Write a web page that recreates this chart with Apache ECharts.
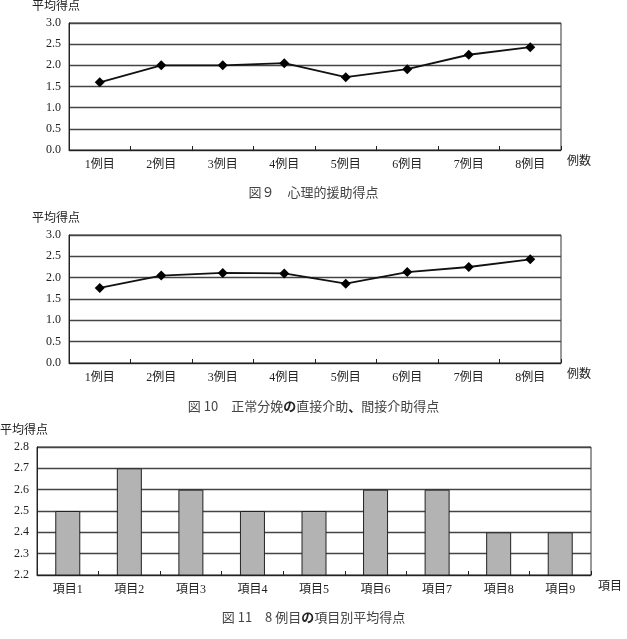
<!DOCTYPE html>
<html><head><meta charset="utf-8">
<script src="https://cdn.jsdelivr.net/npm/echarts@6/dist/echarts.min.js"></script>
<style>html,body{margin:0;padding:0;background:#fff}#c{width:627px;height:639px}</style>
</head><body><div id="c"></div>
<script>
const caseCats = ['1例目','2例目','3例目','4例目','5例目','6例目','7例目','8例目'];
const psychScores = [1.6, 2.0, 2.0, 2.05, 1.72, 1.91, 2.25, 2.43];
const deliveryScores = [1.76, 2.05, 2.11, 2.10, 1.86, 2.13, 2.25, 2.43];
const itemCats = ['項目1','項目2','項目3','項目4','項目5','項目6','項目7','項目8','項目9'];
const itemScores = [2.5, 2.7, 2.6, 2.5, 2.5, 2.6, 2.6, 2.4, 2.4];
const titles = ['図９　心理的援助得点', '図 10　正常分娩{b|の}直接介助{b|、}間接介助得点', '図 11　8 例目{b|の}項目別平均得点'];

const serif = "'Liberation Serif', 'Noto Sans CJK JP', serif";
const sans = "'Noto Sans CJK JP', sans-serif";
const grids = [
  {left: 69, top: 23, width: 492, height: 127},
  {left: 69, top: 235, width: 492, height: 128},
  {left: 37, top: 447, width: 554, height: 128}
];
function xAx(i, data) {
  return {gridIndex: i, type: 'category', data: data, boundaryGap: true,
    axisLine: {lineStyle: {color: '#222', width: 1}},
    axisTick: {show: true, inside: true, length: 4, lineStyle: {color: '#222'}},
    axisLabel: {color: '#222', fontFamily: serif, fontSize: 12, margin: 9},
    splitLine: {show: false}};
}
function yAx(i, min, max, interval, digits) {
  return {gridIndex: i, type: 'value', min: min, max: max, interval: interval,
    axisLine: {show: true, lineStyle: {color: '#222', width: 1}},
    axisTick: {show: false},
    axisLabel: {color: '#222', fontFamily: serif, fontSize: 12, margin: 8,
      formatter: v => v.toFixed(digits)},
    splitLine: {show: true, lineStyle: {color: '#444', width: 1.3}}};
}
const axisNames = [];
grids.forEach((g, i) => {
  axisNames.push({type: 'text', left: g.left - 37, top: g.top - 24,
    style: {text: '平均得点', font: "12px " + sans, fill: '#222'}});
  axisNames.push({type: 'text', left: g.left + g.width + (i === 2 ? 7 : 6), top: g.top + g.height + 4,
    style: {text: i === 2 ? '項目' : '例数', font: "12px " + sans, fill: '#222'}});
});
const titleTops = [186, 400, 611];
const lineSeries = (i, d) => ({type: 'line', xAxisIndex: i, yAxisIndex: i, data: d,
  symbol: 'diamond', symbolSize: 10, lineStyle: {color: '#111', width: 1.8},
  itemStyle: {color: '#000'}, animation: false});

const chart = echarts.init(document.getElementById('c'));
chart.setOption({
  animation: false,
  title: titles.map((t, i) => ({text: t, left: 'center', top: titleTops[i], padding: 0,
    textStyle: {fontFamily: sans, fontSize: 13, fontWeight: 'normal', color: '#444',
      rich: {b: {fontFamily: sans, fontSize: 13, fontWeight: 'bold', color: '#222'}}}})),
  grid: grids.map(g => Object.assign({show: true, borderColor: '#333', borderWidth: 1, backgroundColor: '#fff'}, g)),
  xAxis: [xAx(0, caseCats), xAx(1, caseCats), xAx(2, itemCats)],
  yAxis: [yAx(0, 0, 3, 0.5, 1), yAx(1, 0, 3, 0.5, 1), yAx(2, 2.2, 2.8, 0.1, 1)],
  series: [
    lineSeries(0, psychScores),
    lineSeries(1, deliveryScores),
    {type: 'bar', xAxisIndex: 2, yAxisIndex: 2, data: itemScores, barWidth: 25,
      itemStyle: {color: '#b3b3b3', borderColor: '#222', borderWidth: 1}}
  ],
  graphic: axisNames
});
</script></body></html>
